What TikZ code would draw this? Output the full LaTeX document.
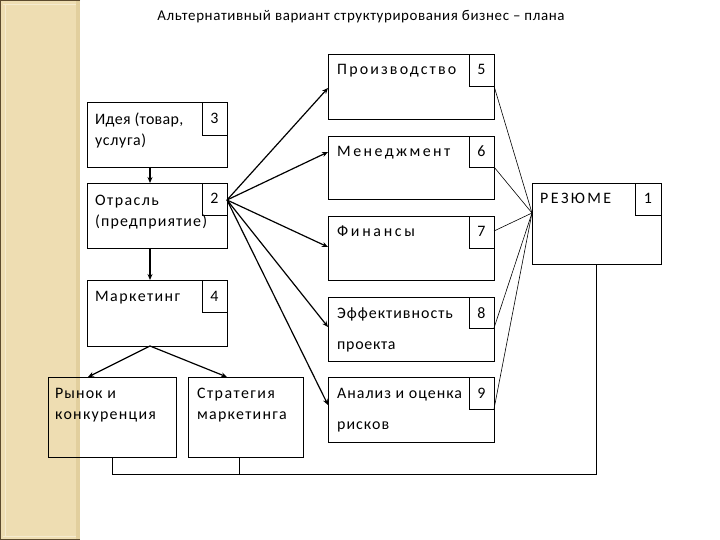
\documentclass[tikz,border=0pt]{standalone}
\usepackage{fontspec}
\setmainfont{Carlito}
\usetikzlibrary{arrows.meta,calc}
\definecolor{beige}{HTML}{EEDDB2}
\definecolor{beigedk}{HTML}{5C4A2E}
\definecolor{beigeln}{HTML}{F6EBCF}
\definecolor{beigesd}{HTML}{E2CF9E}
\newcommand{\ls}[1]{\addfontfeature{LetterSpace=#1}}
\tikzset{
 box/.style={draw=black, line width=0.8pt, rectangle, inner sep=0pt, outer sep=0pt, anchor=north west},
 lbl/.style={anchor=base west, inner sep=0pt, font=\fontsize{16}{22}\selectfont, align=left},
 lblw/.style={lbl, font=\fontsize{16}{31}\selectfont},
 num/.style={anchor=base, inner sep=0pt, font=\fontsize{16}{22}\selectfont},
 arr/.style={line width=1.2pt, -{Stealth[length=6pt,width=5pt]}},
 thinln/.style={line width=0.6pt},
 conn/.style={line width=0.8pt},
}
\newcommand{\bx}[5]{\node[box, minimum width={(#4-#2)*1bp}, minimum height={(#5-#3)*1bp}] (#1) at (#2,#3) {};}
\begin{document}
\begin{tikzpicture}[x=1bp,y=-1bp]
\useasboundingbox (0,0) rectangle (720,540);
% side band
\fill[beige] (0,0) rectangle (80,540);
\fill[beigesd] (76,0) rectangle (80,540);
\draw[beigeln, line width=0.8pt] (5,4) -- (5,536);
\draw[beigeln, line width=0.8pt] (3,4) -- (76,4);
\draw[beigeln, line width=0.8pt] (3,536) -- (76,536);
\draw[beigedk, line width=1.5pt] (80,0.75) -- (0.75,0.75) -- (0.75,539.25) -- (80,539.25);
% title
\node[anchor=base, inner sep=0pt, font=\fontsize{15}{18}\selectfont] (title) at (361,21) {\ls{4}Альтернативный вариант структурирования бизнес – плана};
% left column
\bx{idea}{87}{102}{227}{167}
\bx{n3}{202}{102}{227}{135}
\bx{otr}{87}{183}{227}{248}
\bx{n2}{202}{183}{227}{215}
\bx{mark}{87}{280}{227}{346}
\bx{n4}{202}{280}{227}{312}
\bx{rynok}{48}{377}{176}{457}
\bx{strat}{188}{377}{303}{457}
% right column
\bx{prod}{328}{54}{494}{119}
\bx{n5}{469}{54}{494}{86}
\bx{men}{328}{136}{494}{199}
\bx{n6}{469}{136}{494}{167}
\bx{fin}{328}{216}{494}{280}
\bx{n7}{469}{216}{494}{248}
\bx{eff}{328}{297}{494}{361}
\bx{n8}{469}{297}{494}{328}
\bx{an}{328}{377}{494}{442}
\bx{n9}{469}{377}{494}{409}
\bx{rez}{532}{183}{661}{264}
\bx{n1}{635}{183}{661}{215}
% texts (base = last line)
\node[lbl] (tidea) at (95,146) {{\ls{2}Идея (товар,}\\{\ls{4}услуга)}};
\node[num] (t3) at (214.5,124) {3};
\node[lbl] (totr) at (95,227) {{\ls{9}Отрасль}\\{\ls{7}(предприятие)}};
\node[num] (t2) at (214.5,204) {2};
\node[lbl] (tmark) at (95,301) {\ls{9}Маркетинг};
\node[num] (t4) at (214.5,301) {4};
\node[lbl, font=\fontsize{16}{21}\selectfont] (trynok) at (55,419) {{\ls{6.7}Рынок и}\\{\ls{7.8}конкуренция}};
\node[lbl, font=\fontsize{16}{21}\selectfont] (tstrat) at (197,419) {{\ls{9}Стратегия}\\{\ls{7.8}маркетинга}};
\node[lbl] (tprod) at (337,75) {\ls{13.5}Производство};
\node[num] (t5) at (481.5,75) {5};
\node[lbl] (tmen) at (337,157) {\ls{15.4}Менеджмент};
\node[num] (t6) at (481.5,157) {6};
\node[lbl] (tfin) at (337,237) {\ls{16.7}Финансы};
\node[num] (t7) at (481.5,237) {7};
\node[lblw] (teff) at (337,349) {{\ls{6.3}Эффективность}\\{\ls{4.4}проекта}};
\node[num] (t8) at (481.5,318) {8};
\node[lblw] (tan) at (337,429) {{\ls{6.3}Анализ и оценка}\\{\ls{6.3}рисков}};
\node[num] (t9) at (481.5,398) {9};
\node[lbl] (trez) at (540,204) {\ls{15}РЕЗЮМЕ};
\node[num] (t1) at (648,204) {1};
% vertical arrows in left column
\coordinate (ia) at ($(idea.south west)+(63,0)$);
\coordinate (ib) at ($(otr.north west)+(63,0)$);
\coordinate (oa) at ($(otr.south west)+(63,0)$);
\coordinate (ob) at ($(mark.north west)+(63,0)$);
\draw[arr] (ia) -- (ib);
\draw[arr] (oa) -- (ob);
% marketing fork
\coordinate (ma) at ($(mark.south west)+(63,0)$);
\coordinate (ra) at ($(rynok.north west)+(40,0)$);
\coordinate (sa) at ($(strat.north west)+(39,0)$);
\draw[arr] (ma) -- (ra);
\draw[arr] (ma) -- (sa);
% fan from Otrasl
\coordinate (src) at ($(otr.north east)+(0,17)$);
\coordinate (tp) at ($(prod.north west)+(0,34)$);
\coordinate (tm) at ($(men.north west)+(0,16)$);
\coordinate (tf) at ($(fin.north west)+(0,31)$);
\coordinate (te) at ($(eff.north west)+(0,30)$);
\coordinate (ta) at ($(an.north west)+(0,28)$);
\draw[arr] (src) -- (tp);
\draw[arr] (src) -- (tm);
\draw[arr] (src) -- (tf);
\draw[arr] (src) -- (te);
\draw[arr] (src) -- (ta);
% lines to summary
\coordinate (rz) at ($(rez.north west)+(0,30)$);
\draw[thinln] (rz) -- (n5.south east);
\draw[thinln] (rz) -- (n6.south east);
\draw[thinln] (rz) -- ($(n7.east)+(0,-1)$);
\draw[thinln] (rz) -- (n8.south east);
\draw[thinln] (rz) -- (n9.south east);
% bottom connector
\coordinate (sb) at ($(strat.south west)+(51,0)$);
\draw[conn] (rynok.south) -- ++(0,17) -| (rez.south);
\draw[conn] (sb) -- ++(0,17);
\end{tikzpicture}
\end{document}
